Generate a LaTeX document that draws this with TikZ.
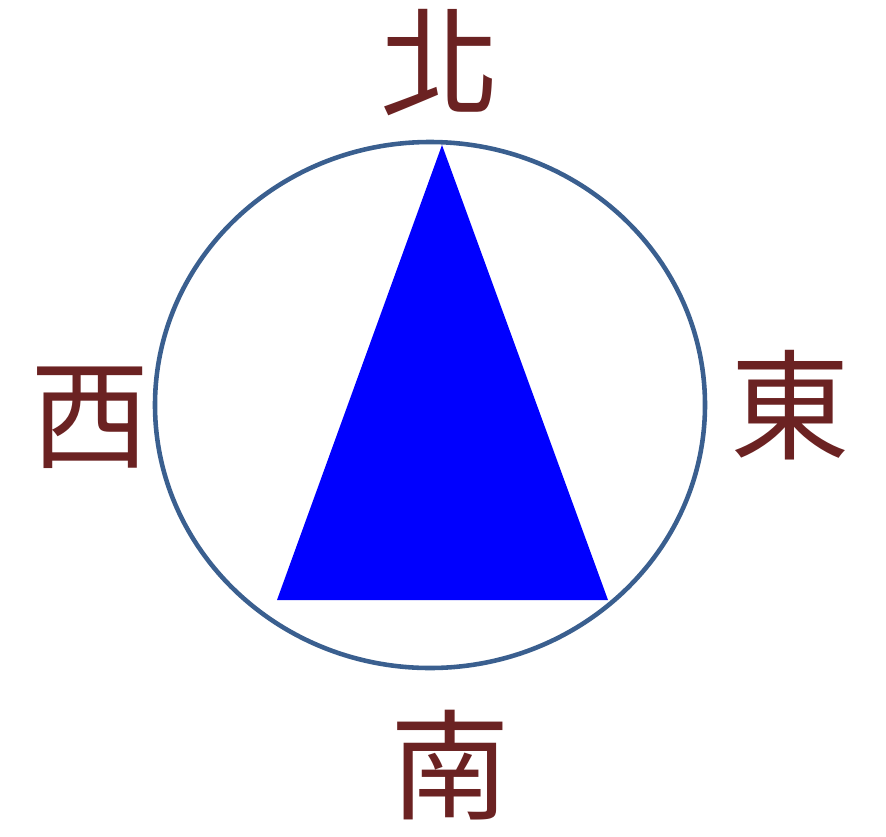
\documentclass[tikz,border=0pt]{standalone}
\usepackage{fontspec}
\newfontfamily\cjk{Noto Sans CJK TC}
\usetikzlibrary{positioning}
\definecolor{rimblue}{HTML}{3A5F8F}
\definecolor{dirred}{HTML}{6B2222}

\begin{document}
\begin{tikzpicture}[x=0.02cm,y=-0.02cm,
 dir/.style={font=\cjk\fontsize{68}{68}\selectfont,text=dirred,inner sep=0pt}]
\useasboundingbox (0,0) rectangle (886,836);
\draw[rimblue,line width=2.6pt] (430,405) ellipse [x radius=275,y radius=263];
\fill[blue] (442,145) -- (608,600) -- (277,600) -- cycle;
\node[dir] (north) at (440,63) {北};
\node[dir] (west) at (90,418) {西};
\node[dir] (east) at (790,405) {東};
\node[dir] (south) at (450,765) {南};
\end{tikzpicture}
\end{document}
